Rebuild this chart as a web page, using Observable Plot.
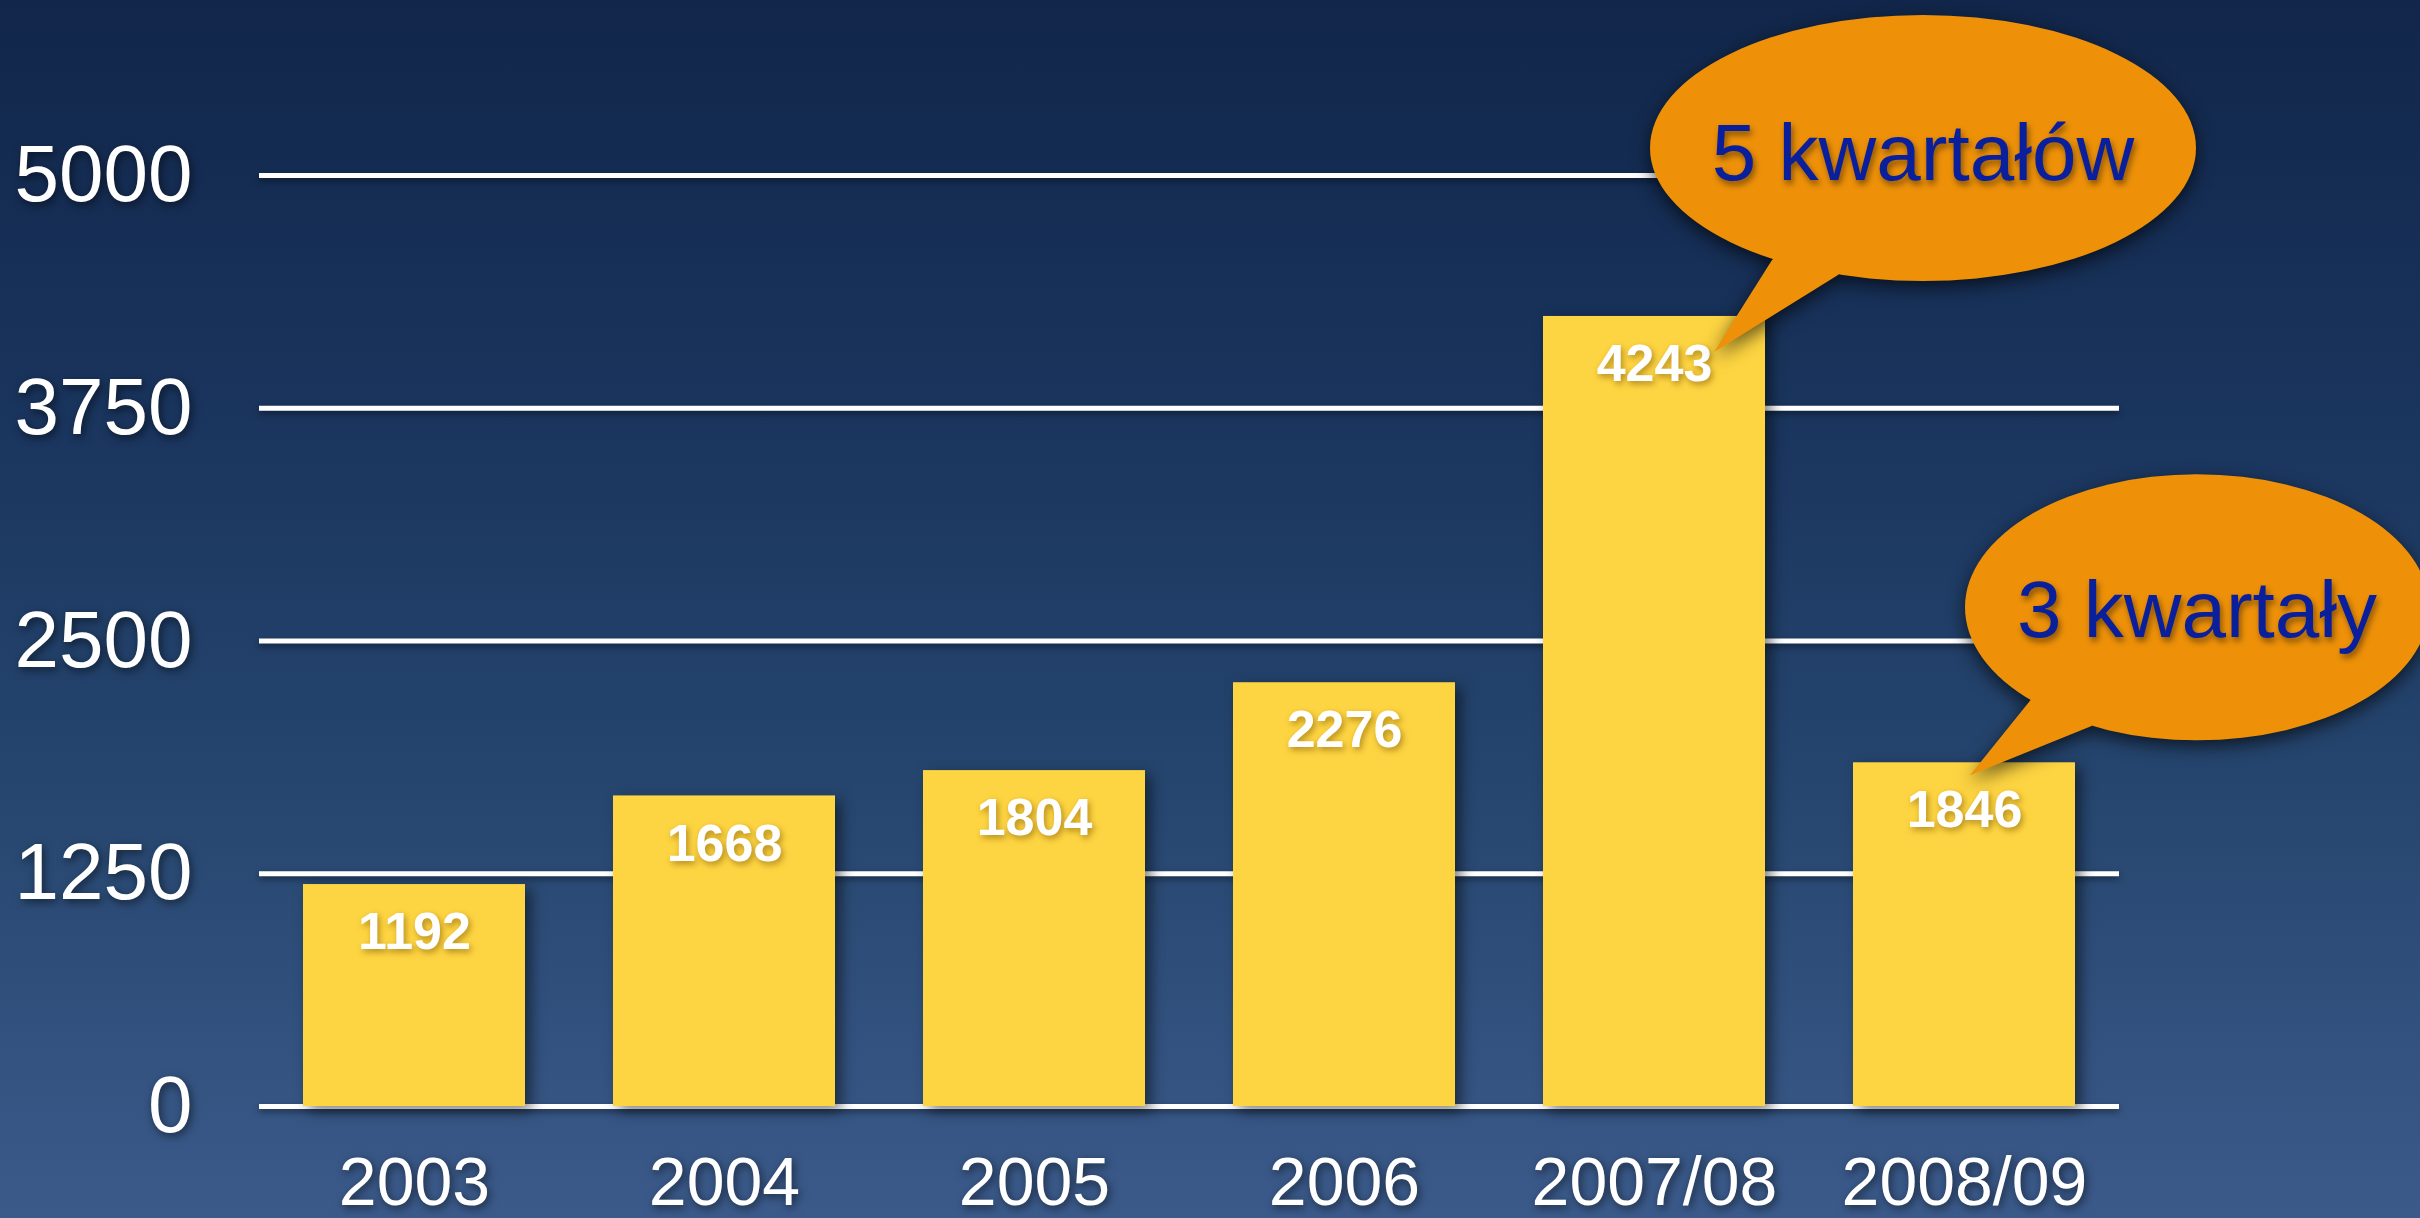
<!DOCTYPE html>
<html>
<head>
<meta charset="utf-8">
<script src="https://cdn.jsdelivr.net/npm/d3@7"></script>
<script src="https://cdn.jsdelivr.net/npm/@observablehq/plot@0.6"></script>
<style>
  html, body { margin: 0; padding: 0; }
  body {
    width: 2420px; height: 1218px; overflow: hidden;
    background: linear-gradient(to bottom, #11264a 0%, #1a355e 35%, #26466f 65%, #3b5a8a 100%);
  }
  #chart svg { display: block; }
  #chart g[aria-label="bar"] { filter: drop-shadow(6px 5px 7px rgba(0,0,0,0.5)); }
  #chart g[aria-label="rule"] { filter: drop-shadow(0px 3px 3px rgba(0,0,0,0.45)); }
  #chart g[aria-label="text"] { filter: drop-shadow(2px 3px 3px rgba(120,80,0,0.55)); }
  #chart g[aria-label="y-axis tick label"],
  #chart g[aria-label="x-axis tick label"] { filter: drop-shadow(2px 3px 4px rgba(0,0,0,0.55)); }
  #chart g.bubble-shape { filter: drop-shadow(0px 6px 9px rgba(0,0,0,0.65)); }
  #chart text.bubble-text { filter: drop-shadow(2px 4px 3px rgba(0,0,0,0.45)); }
</style>
</head>
<body>
<div id="chart"></div>
<script>
// ---- data ----
const categories = ["2003", "2004", "2005", "2006", "2007/08", "2008/09"];
const values = [1192, 1668, 1804, 2276, 4243, 1846];
const yTicks = [0, 1250, 2500, 3750, 5000];
const calloutCategories = ["2007/08", "2008/09"];
const calloutTexts = ["5 kwartałów", "3 kwartały"];

const data = categories.map((c, i) => ({cat: c, value: values[i]}));
const callouts = calloutCategories.map((c, i) => ({
  cat: c,
  value: values[categories.indexOf(c)],
  text: calloutTexts[i]
}));

// bubble geometry (pixel offsets relative to the bar top centre)
const bubbleGeom = [
  {tip: [60, 36], center: [209, -204], rx: 273, ry: 133, base1: [58, -92], base2: [124, -77], textDy: 32},
  {tip: [6, 13], center: [227, -168], rx: 232, ry: 133, base1: [62, -77], base2: [121, -49], textDy: 30}
];

function bubbles(index, scales) {
  const x = scales.x, y = scales.y;
  const bw = typeof x.bandwidth === "function" ? x.bandwidth()
           : (scales.scales && scales.scales.x && scales.scales.x.bandwidth) || 0;
  const g = d3.create("svg:g").attr("aria-label", "callouts");
  callouts.forEach((c, i) => {
    const geo = bubbleGeom[i];
    const tx = x(c.cat) + bw / 2 + geo.tip[0];
    const ty = y(c.value) + geo.tip[1];
    const cx = tx + geo.center[0], cy = ty + geo.center[1];
    const shape = g.append("g").attr("class", "bubble-shape");
    shape.append("ellipse")
      .attr("cx", cx).attr("cy", cy).attr("rx", geo.rx).attr("ry", geo.ry)
      .attr("fill", "#EE9109");
    shape.append("path")
      .attr("d", `M${tx},${ty}L${tx + geo.base1[0]},${ty + geo.base1[1]}L${cx},${cy}L${tx + geo.base2[0]},${ty + geo.base2[1]}Z`)
      .attr("fill", "#EE9109");
    g.append("text")
      .attr("class", "bubble-text")
      .attr("x", cx).attr("y", cy + geo.textDy)
      .attr("text-anchor", "middle")
      .attr("font-family", "'Liberation Sans', Arial, sans-serif")
      .attr("font-size", 80)
      .attr("fill", "#0a1f9c")
      .text(c.text);
  });
  return g.node();
}

const chart = Plot.plot({
  width: 2420,
  height: 1218,
  marginTop: 175,
  marginBottom: 112,
  marginLeft: 259,
  marginRight: 301,
  style: {background: "transparent", fontFamily: "'Liberation Sans', Arial, sans-serif", color: "white", overflow: "visible"},
  x: {domain: categories, paddingInner: 0.284, paddingOuter: 0.142, label: null},
  y: {domain: [0, 5000], label: null},
  marks: [
    Plot.ruleY(yTicks, {stroke: "white", strokeWidth: 5}),
    Plot.barY(data, {x: "cat", y: "value", fill: "#FDD441"}),
    Plot.text(data, {x: "cat", y: "value", text: d => String(d.value), dy: 48, fill: "white", fontSize: 52, fontWeight: "bold"}),
    Plot.axisY({ticks: yTicks, tickSize: 0, tickPadding: 67, fontSize: 80, fill: "white", tickFormat: d => String(d)}),
    Plot.axisX({tickSize: 0, tickPadding: 50, fontSize: 68, fill: "white"}),
    bubbles
  ]
});
document.getElementById("chart").appendChild(chart);
</script>
</body>
</html>
